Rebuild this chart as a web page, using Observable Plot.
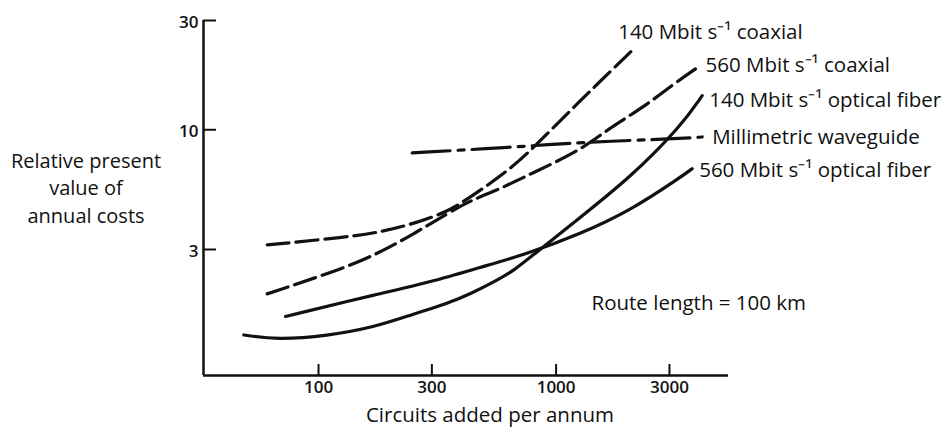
<!DOCTYPE html>
<html><head><meta charset="utf-8">
<script src="https://cdn.jsdelivr.net/npm/d3@7"></script>
<script src="https://cdn.jsdelivr.net/npm/@observablehq/plot@0.6"></script>
<style>
html,body{margin:0;padding:0;background:#fff;}
#chart svg{display:block;}
</style></head><body><div id="chart"></div>
<script>
// ---- data (log-log axes) ----
const xTicks = [100, 300, 1000, 3000];
const yTicks = [3, 10, 30];
const xDomain = [32.8, 5317];
const yDomain = [0.845, 30];
const xLabel = "Circuits added per annum";
const yLabel = "Relative present\nvalue of\nannual costs";
const noteLabel = "Route length = 100 km";

const seriesNames = [
  "140 Mbit s⁻¹ coaxial",
  "560 Mbit s⁻¹ coaxial",
  "140 Mbit s⁻¹ optical fiber",
  "Millimetric waveguide",
  "560 Mbit s⁻¹ optical fiber"
];

const coax140X = [60.8, 132, 182, 252, 348, 436, 664, 917, 1267, 1441, 2090];
const coax140Y = [3.14, 3.40, 3.57, 3.89, 4.37, 5.08, 6.87, 9.6, 13.4, 15.3, 22.2];

const coax560X = [60.8, 132, 182, 252, 348, 436, 583, 780, 1267, 1694, 2339, 3129, 4053];
const coax560Y = [1.92, 2.51, 2.92, 3.51, 4.30, 4.91, 5.52, 6.42, 8.12, 10.26, 12.55, 15.87, 19.1];

const fiber140X = [48.5, 67, 109, 171, 252, 348, 436, 565, 664, 780, 1267, 2056, 3339, 4120];
const fiber140Y = [1.27, 1.21, 1.26, 1.37, 1.57, 1.74, 1.92, 2.20, 2.43, 2.78, 4.15, 6.2, 10.3, 14.1];

const waveguideX = [248, 664, 1267, 3339, 4120];
const waveguideY = [7.93, 8.39, 8.82, 9.15, 9.3];

const fiber560X = [72.6, 182, 296, 481, 756, 1267, 2056, 3339, 3739];
const fiber560Y = [1.53, 1.93, 2.16, 2.51, 2.87, 3.51, 4.44, 6.2, 6.76];

// ---- build ----
const seriesX = [coax140X, coax560X, fiber140X, waveguideX, fiber560X];
const seriesY = [coax140Y, coax560Y, fiber140Y, waveguideY, fiber560Y];
const dashes = ["22,7", "22,7", null, "38,8,6,8", null];
const labelDx = [-14, 5, 7, 10, 7];
const labelDy = [-18, 0, 5, 0, 2];

const ink = "#111";
const font = "'Open Sans', sans-serif";
const marks = [];

seriesNames.forEach((name, i) => {
  const rows = seriesX[i].map((x, j) => ({series: name, x, y: seriesY[i][j]}));
  marks.push(Plot.line(rows, {
    x: "x", y: "y", stroke: ink, strokeWidth: 3.2,
    strokeDasharray: dashes[i] || undefined,
    curve: "basis"
  }));
  const last = rows[rows.length - 1];
  marks.push(Plot.text([last], {
    x: "x", y: "y", text: d => d.series,
    dx: labelDx[i], dy: labelDy[i], textAnchor: "start",
    fontSize: 20.5, fill: ink, fontFamily: font
  }));
});

// axes
marks.push(Plot.ruleX([xDomain[0]], {stroke: ink, strokeWidth: 2.5}));
marks.push(Plot.ruleY([yDomain[0]], {stroke: ink, strokeWidth: 2.5}));
marks.push(Plot.ruleX(xTicks, {x: d => d, insetTop: 344, stroke: ink, strokeWidth: 2}));
marks.push(Plot.ruleY(yTicks, {y: d => d, insetRight: 512, stroke: ink, strokeWidth: 2}));
marks.push(Plot.text(xTicks, {
  x: d => d, frameAnchor: "bottom", dy: 17.5, text: d => String(d),
  fontSize: 17, fontWeight: 600, fill: ink, fontFamily: font
}));
marks.push(Plot.text(yTicks, {
  y: d => d, frameAnchor: "left", dx: -5, dy: 2, textAnchor: "end", text: d => String(d),
  fontSize: 17, fontWeight: 600, fill: ink, fontFamily: font
}));
marks.push(Plot.text([xLabel], {
  frameAnchor: "bottom", dx: 24, dy: 46, text: d => d,
  fontSize: 20.5, fill: ink, fontFamily: font
}));
marks.push(Plot.text([yLabel], {
  frameAnchor: "left", dx: -117.5, dy: -11.5, text: d => d, textAnchor: "middle",
  lineHeight: 1.37, fontSize: 20, fill: ink, fontFamily: font
}));
marks.push(Plot.text([noteLabel], {
  frameAnchor: "top-left", dx: 388, dy: 275, text: d => d, textAnchor: "start",
  fontSize: 20.5, fill: ink, fontFamily: font
}));

const chart = Plot.plot({
  width: 948, height: 434,
  marginLeft: 203, marginRight: 220, marginTop: 20, marginBottom: 59,
  x: {type: "log", domain: xDomain, axis: null},
  y: {type: "log", domain: yDomain, axis: null},
  style: {background: "#fff", fontFamily: font, color: ink},
  marks
});
document.getElementById("chart").append(chart);
</script></body></html>
